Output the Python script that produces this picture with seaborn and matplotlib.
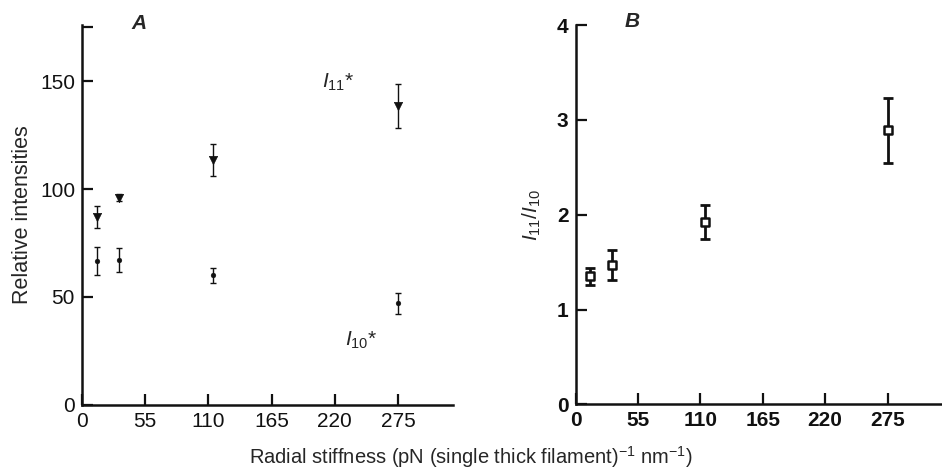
import numpy as np
import pandas as pd
import matplotlib
matplotlib.use('Agg')
import matplotlib.pyplot as plt
import seaborn as sns

sns.set_style('ticks')
plt.rcParams['font.family'] = ['Liberation Sans', 'DejaVu Sans']
plt.rcParams['mathtext.fontset'] = 'custom'
plt.rcParams['mathtext.it'] = 'Liberation Sans:italic'
plt.rcParams['mathtext.rm'] = 'Liberation Sans'

# Data
stiffness = [13, 32, 114, 275]
i11 = [87, 96, 113.5, 138.5]
i11_err = [5, 1.5, 7.5, 10]
i10 = [66.5, 67, 60, 47]
i10_err = [6.5, 5.5, 3.5, 4.8]
ratio = [1.35, 1.47, 1.92, 2.89]
ratio_err = [0.09, 0.155, 0.18, 0.34]

x_ticks = [0, 55, 110, 165, 220, 275]
ink = '#111111'

df = pd.DataFrame({'x': stiffness, 'i11': i11, 'i11_err': i11_err,
                   'i10': i10, 'i10_err': i10_err,
                   'ratio': ratio, 'ratio_err': ratio_err})

fig = plt.figure(figsize=(9.42, 4.74), dpi=100)
axA = fig.add_axes([0.087, 0.146, 0.394, 0.801])
axB = fig.add_axes([0.611, 0.147, 0.389, 0.800])

# Panel A: relative intensities
axA.errorbar(df['x'], df['i11'], yerr=df['i11_err'], fmt='none', ecolor=ink,
             elinewidth=1.0, capsize=2.5, capthick=1.0)
axA.errorbar(df['x'], df['i10'], yerr=df['i10_err'], fmt='none', ecolor=ink,
             elinewidth=1.0, capsize=2.5, capthick=1.0)
sns.scatterplot(data=df, x='x', y='i11', marker='v', s=36, color=ink,
                edgecolor=ink, ax=axA, zorder=3)
sns.scatterplot(data=df, x='x', y='i10', marker='o', s=12, color=ink,
                edgecolor=ink, ax=axA, zorder=3)
axA.set_xlim(0, 323)
axA.set_ylim(0, 176)
axA.set_yticks([0, 50, 100, 150, 175])
axA.set_yticklabels(['0', '50', '100', '150', ''])
axA.set_ylabel('Relative intensities', fontsize=15.5, labelpad=5)
axA.text(209, 149.5, r'$I_{11}$*', fontsize=15, ha='left', va='center')
axA.text(229, 30, r'$I_{10}$*', fontsize=15, ha='left', va='center')
axA.text(0.155, 1.005, 'A', transform=axA.transAxes, fontsize=15,
         fontstyle='italic', fontweight='bold', ha='center', va='center')

# Panel B: I11/I10 ratio
axB.errorbar(df['x'], df['ratio'], yerr=df['ratio_err'], fmt='none', ecolor=ink,
             elinewidth=2.0, capsize=3.5, capthick=2.0)
sns.scatterplot(data=df, x='x', y='ratio', marker='s', s=30, color='white',
                edgecolor=ink, linewidth=1.8, ax=axB, zorder=3)
axB.set_xlim(0, 323)
axB.set_ylim(0, 4)
axB.set_yticks([0, 1, 2, 3, 4])
axB.set_ylabel(r'$I_{11}/I_{10}$', fontsize=15, labelpad=10)
axB.text(0.155, 1.01, 'B', transform=axB.transAxes, fontsize=15,
         fontstyle='italic', fontweight='bold', ha='center', va='center')

for ax in (axA, axB):
    ax.set_xticks(x_ticks)
    ax.set_xlabel('')
    ax.tick_params(direction='in', length=8, width=1.6, labelsize=15,
                   colors=ink, pad=5)
    for s in ('left', 'bottom'):
        ax.spines[s].set_linewidth(1.8)
        ax.spines[s].set_color(ink)
    sns.despine(ax=ax)

for lab in axB.get_xticklabels() + axB.get_yticklabels():
    lab.set_fontweight('bold')

fig.text(0.5, 0.035, r'Radial stiffness (pN (single thick filament)$^{-1}$ nm$^{-1}$)',
         ha='center', va='center', fontsize=14.5)

fig.savefig('out.png', dpi=100)
